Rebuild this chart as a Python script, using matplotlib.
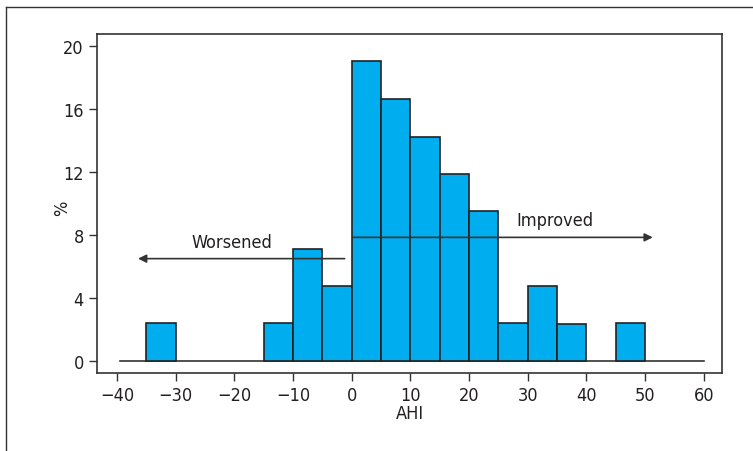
import matplotlib.pyplot as plt
from matplotlib.lines import Line2D
import numpy as np

plt.rcParams['font.family'] = ['DejaVu Sans']
plt.rcParams['font.stretch'] = 'condensed'

# histogram bins (left edges, width 5) and percentages
bin_left = [-35, -15, -10, -5, 0, 5, 10, 15, 20, 25, 30, 35, 45]
percent = [2.4, 2.4, 7.1, 4.75, 19.05, 16.65, 14.25, 11.9, 9.55, 2.4, 4.75, 2.35, 2.4]
bin_width = 5

x_ticks = [-40, -30, -20, -10, 0, 10, 20, 30, 40, 50, 60]
y_ticks = [0, 4, 8, 12, 16, 20]
tick_labels_x = ['\u221240', '\u221230', '\u221220', '\u221210', '0', '10', '20', '30', '40', '50', '60']


def main():
    fig = plt.figure(figsize=(7.53, 4.52), dpi=100)
    ax = fig.add_axes([97 / 753, 1 - 374 / 452, (722 - 97) / 753, (374 - 35) / 452])

    ax.bar(bin_left, percent, width=bin_width, align='edge',
           color='#00AEEF', edgecolor='#222222', linewidth=1.2, zorder=2)
    ax.plot([-39.5, 60], [0, 0], color='#333333', lw=1.2, zorder=1)

    # arrows
    ax.annotate('', xy=(-36.4, 6.5), xytext=(-1.2, 6.5),
                arrowprops=dict(arrowstyle='-|>', color='#333333', lw=1.2,
                                mutation_scale=12, shrinkA=0, shrinkB=0), zorder=3)
    ax.annotate('', xy=(51.3, 7.85), xytext=(0.3, 7.85),
                arrowprops=dict(arrowstyle='-|>', color='#333333', lw=1.2,
                                mutation_scale=12, shrinkA=0, shrinkB=0), zorder=3)
    ax.text(-20.4, 7.0, 'Worsened', ha='center', va='bottom', fontsize=13, color='#231f20')
    ax.text(34.6, 8.35, 'Improved', ha='center', va='bottom', fontsize=13, color='#231f20')

    ax.set_xlim(-43.4, 63.1)
    ax.set_ylim(-0.76, 20.76)
    ax.set_xticks(x_ticks)
    ax.set_xticklabels(tick_labels_x)
    ax.set_yticks(y_ticks)
    ax.tick_params(direction='out', length=6, width=1, colors='#333333',
                   labelsize=13, labelcolor='#231f20')
    for s in ax.spines.values():
        s.set_color('#333333')
        s.set_linewidth(1.2)
    ax.set_xlabel('AHI', fontsize=13, color='#231f20', labelpad=0)
    ax.set_ylabel('%', fontsize=13, color='#231f20')
    ax.yaxis.set_label_coords(-0.042, 0.49)

    # outer frame (top and left)
    fig.add_artist(Line2D([6 / 753, 1], [1 - 8 / 452, 1 - 8 / 452], color='#333333', lw=1))
    fig.add_artist(Line2D([6 / 753, 6 / 753], [0, 1 - 8 / 452], color='#333333', lw=1))

    fig.savefig('out.png', dpi=100)


if __name__ == '__main__':
    main()
